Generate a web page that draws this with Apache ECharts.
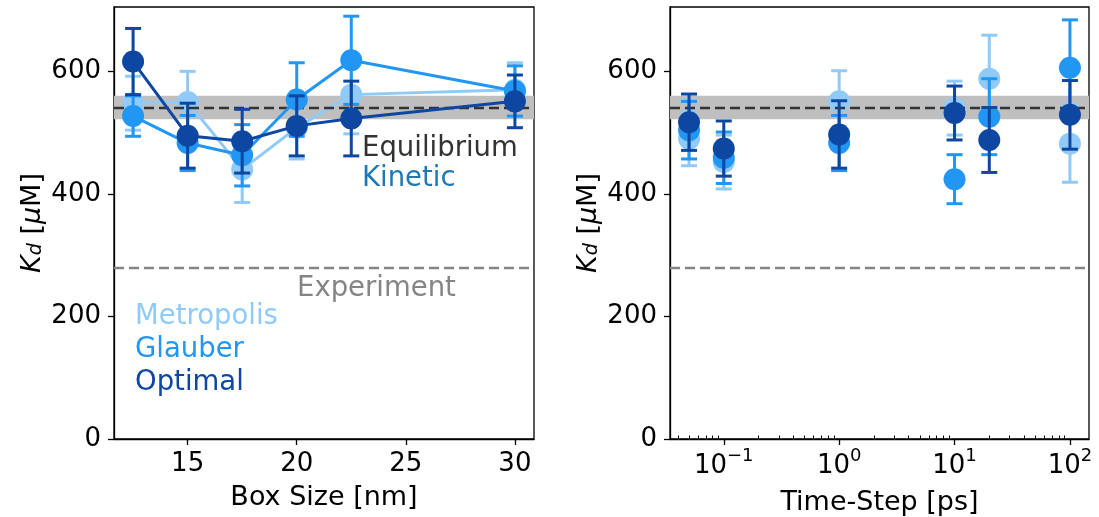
<!DOCTYPE html>
<html>
<head>
<meta charset="utf-8">
<script src="https://cdn.jsdelivr.net/npm/echarts@6/dist/echarts.min.js"></script>
<style>
  html, body { margin: 0; padding: 0; background: #fff; }
  #chart { width: 1099px; height: 517px; }
</style>
</head>
<body>
<div id="chart"></div>
<script>
// box size panel
const boxSizes = [12.5, 15, 17.5, 20, 22.5, 30];
const metroBox = [548, 550, 440, 508, 562, 570];
const metroBoxErr = [44, 50, 54, 51, 64, 44];
const glauberBox = [527, 483, 463, 554, 618, 568];
const glauberBoxErr = [33, 45, 50, 60, 72, 41];
const optimalBox = [616, 495, 486, 511, 523, 551];
const optimalBoxErr = [54, 53, 52, 49, 61, 43];

// time-step panel
const timeSteps = [0.05, 0.1, 1, 10, 20, 100];
const metroTs = [490, 452, 551, 540, 588, 482];
const metroTsErr = [44, 44, 50, 44, 71, 63];
const glauberTs = [504, 459, 483, 424, 526, 606];
const glauberTsErr = [47, 42, 45, 40, 62, 78];
const optimalTs = [517, 474, 497, 532, 488, 529];
const optimalTsErr = [46, 45, 55, 44, 53, 56];

// reference values
const kdEquilibrium = 541;
const kdEquilibriumBand = [522, 560];
const kdExperiment = 280;

const boxTicks = [15, 20, 25, 30];
const kdTicks = [0, 200, 400, 600];
const tsMajorTicks = [0.1, 1, 10, 100];
const tsMinorTicks = [0.04, 0.05, 0.06, 0.07, 0.08, 0.09,
  0.2, 0.3, 0.4, 0.5, 0.6, 0.7, 0.8, 0.9,
  2, 3, 4, 5, 6, 7, 8, 9,
  20, 30, 40, 50, 60, 70, 80, 90];

const colors = { metro: '#90caf9', glauber: '#2196f3', optimal: '#0d47a1' };
const FONT = 'DejaVu Sans';

const chart = echarts.init(document.getElementById('chart'));

const zip = (xs, ys, es) => xs.map((x, i) => es ? [x, ys[i], es[i]] : [x, ys[i]]);

const renderErr = (params, api) => {
  const x = api.value(0), y = api.value(1), e = api.value(2);
  const top = api.coord([x, y + e]);
  const bot = api.coord([x, y - e]);
  const cw = 8;
  const style = { stroke: api.visual('color'), lineWidth: 3 };
  return {
    type: 'group',
    children: [
      { type: 'line', shape: { x1: top[0], y1: top[1], x2: bot[0], y2: bot[1] }, style },
      { type: 'line', shape: { x1: top[0] - cw, y1: top[1], x2: top[0] + cw, y2: top[1] }, style },
      { type: 'line', shape: { x1: bot[0] - cw, y1: bot[1], x2: bot[0] + cw, y2: bot[1] }, style },
    ],
  };
};

const refSeries = (idx) => ({
  type: 'line',
  xAxisIndex: idx === 0 ? 0 : 1,
  yAxisIndex: idx,
  data: [],
  z: 1,
  silent: true,
  markArea: {
    silent: true,
    itemStyle: { color: '#bfbfbf', opacity: 1 },
    data: [[{ yAxis: kdEquilibriumBand[0] }, { yAxis: kdEquilibriumBand[1] }]],
  },
  markLine: {
    silent: true,
    symbol: 'none',
    label: { show: false },
    data: [
      { yAxis: kdEquilibrium, lineStyle: { color: '#333333', width: 2.3, type: [10, 5] } },
      { yAxis: kdExperiment, lineStyle: { color: '#858585', width: 2.3, type: [10, 5] } },
    ],
  },
});

const dataSeries = (idx, xs, ys, es, color, z, withLine) => {
  const xi = idx === 0 ? 0 : 1;
  return [
    {
      type: 'custom',
      xAxisIndex: xi,
      yAxisIndex: idx,
      renderItem: renderErr,
      itemStyle: { color },
      encode: { x: 0, y: 1 },
      data: zip(xs, ys, es),
      z,
      silent: true,
    },
    {
      type: withLine ? 'line' : 'scatter',
      xAxisIndex: xi,
      yAxisIndex: idx,
      data: zip(xs, ys),
      symbol: 'circle',
      symbolSize: 22,
      itemStyle: { color, opacity: 1 },
      lineStyle: { color, width: 3 },
      z: z + 1,
      silent: true,
    },
  ];
};

const yAxisBase = (gridIndex) => ({
  type: 'value',
  gridIndex,
  min: 0,
  max: 705,
  name: '{i|K}{sub|d} [{i|μ}M]',
  nameLocation: 'middle',
  nameRotate: 90,
  nameGap: 68,
  nameTextStyle: {
    fontFamily: FONT, fontSize: 27, color: '#000',
    rich: {
      i: { fontFamily: FONT, fontSize: 27, fontStyle: 'italic', color: '#000' },
      sub: { fontFamily: FONT, fontSize: 19, fontStyle: 'italic', color: '#000', verticalAlign: 'bottom', lineHeight: 14 },
    },
  },
  axisLine: { show: true, lineStyle: { color: '#000', width: 1.3 } },
  axisTick: { show: true, customValues: kdTicks, length: 6, lineStyle: { color: '#000', width: 1.3 } },
  axisLabel: { customValues: kdTicks, fontFamily: FONT, fontSize: 26, color: '#000', margin: 13 },
  splitLine: { show: false },
});

const supExp = (v) => {
  const e = Math.round(Math.log10(v));
  return '10{sup|' + (e < 0 ? '−' + (-e) : e) + '}';
};

const note = (text, x, y, fill) => ({
  type: 'text', x, y, z: 20,
  style: { text, fill, font: '27.5px "DejaVu Sans"', verticalAlign: 'middle' },
});

chart.setOption({
  animation: false,
  textStyle: { fontFamily: FONT },
  grid: [
    { left: 114, top: 7, width: 420, height: 432, outerBoundsMode: 'none', show: true, borderColor: '#000', borderWidth: 1.3 },
    { left: 670, top: 7, width: 419, height: 432, outerBoundsMode: 'none', show: true, borderColor: '#000', borderWidth: 1.3 },
  ],
  xAxis: [
    {
      type: 'value',
      gridIndex: 0,
      min: 11.625,
      max: 30.875,
      name: 'Box Size [nm]',
      nameLocation: 'middle',
      nameGap: 45,
      nameTextStyle: { fontFamily: FONT, fontSize: 27, color: '#000' },
      axisLine: { show: true, onZero: false, lineStyle: { color: '#000', width: 1.3 } },
      axisTick: { show: true, customValues: boxTicks, length: 6, lineStyle: { color: '#000', width: 1.3 } },
      axisLabel: { customValues: boxTicks, fontFamily: FONT, fontSize: 26, color: '#000', margin: 12 },
      splitLine: { show: false },
    },
    {
      type: 'log',
      logBase: 10,
      gridIndex: 1,
      min: 0.0342,
      max: 146.3,
      name: 'Time-Step [ps]',
      nameLocation: 'middle',
      nameGap: 45,
      nameTextStyle: { fontFamily: FONT, fontSize: 27, color: '#000' },
      axisLine: { show: true, onZero: false, lineStyle: { color: '#000', width: 1.3 } },
      axisTick: { show: true, customValues: tsMajorTicks, length: 6, lineStyle: { color: '#000', width: 1.3 } },
      axisLabel: {
        customValues: tsMajorTicks,
        formatter: supExp,
        fontFamily: FONT, fontSize: 26, color: '#000', margin: 8, lineHeight: 38,
        rich: {
          sup: { fontFamily: FONT, fontSize: 18, color: '#000', verticalAlign: 'top', lineHeight: 16 },
        },
      },
      splitLine: { show: false },
    },
    {
      type: 'log',
      logBase: 10,
      gridIndex: 1,
      min: 0.0342,
      max: 146.3,
      axisLine: { show: false },
      axisTick: { show: true, customValues: tsMinorTicks, length: 3.5, lineStyle: { color: '#000', width: 1 } },
      axisLabel: { show: false },
      splitLine: { show: false },
    },
  ],
  yAxis: [yAxisBase(0), yAxisBase(1)],
  series: [
    refSeries(0),
    ...dataSeries(0, boxSizes, metroBox, metroBoxErr, colors.metro, 2, true),
    ...dataSeries(0, boxSizes, glauberBox, glauberBoxErr, colors.glauber, 4, true),
    ...dataSeries(0, boxSizes, optimalBox, optimalBoxErr, colors.optimal, 6, true),
    refSeries(1),
    ...dataSeries(1, timeSteps, metroTs, metroTsErr, colors.metro, 2, false),
    ...dataSeries(1, timeSteps, glauberTs, glauberTsErr, colors.glauber, 4, false),
    ...dataSeries(1, timeSteps, optimalTs, optimalTsErr, colors.optimal, 6, false),
  ],
  graphic: [
    note('Equilibrium', 362, 149, '#333333'),
    note('Kinetic', 362, 179, '#1f77b4'),
    note('Experiment', 297, 289, '#858585'),
    note('Metropolis', 135, 317, colors.metro),
    note('Glauber', 135, 350, colors.glauber),
    note('Optimal', 135, 383, colors.optimal),
  ],
});

window.addEventListener('resize', () => chart.resize());
</script>
</body>
</html>
